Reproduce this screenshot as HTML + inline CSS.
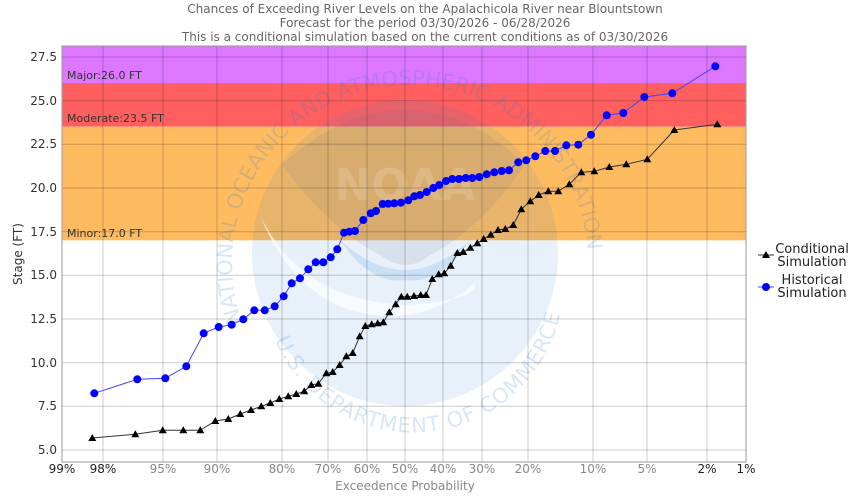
<!DOCTYPE html>
<html><head><meta charset="utf-8"><style>
body{margin:0;background:#fff}
svg{display:block;font-family:"DejaVu Sans","Liberation Sans",sans-serif}
</style></head><body>
<svg width="850" height="500" viewBox="0 0 850 500" xmlns="http://www.w3.org/2000/svg">
<rect width="850" height="500" fill="#fff"/>
<g font-size="12" fill="#666" text-anchor="middle">
<text x="425" y="13">Chances of Exceeding River Levels on the Apalachicola River near Blountstown</text>
<text x="425" y="27">Forecast for the period 03/30/2026 - 06/28/2026</text>
<text x="425" y="41">This is a conditional simulation based on the current conditions as of 03/30/2026</text>
</g>
<rect x="62" y="46" width="684" height="37" fill="#dd77ff"/>
<rect x="62" y="83" width="684" height="43.7" fill="#ff5f5f"/>
<rect x="62" y="126.7" width="684" height="113.6" fill="#ffbb5f"/>
<defs>
<path id="arcTop" d="M242,322 A178,178 0 1 1 578,322"/>
<path id="arcBot" d="M275,340 A150,150 0 0 0 560,315"/>
</defs>
<g>
<circle cx="405" cy="253" r="153" fill="#2a7fd6" opacity="0.11"/>
<path d="M282,165 Q340,110 405,110 Q470,110 525,165 Q480,230 430,255 Q405,275 380,255 Q330,230 282,165 Z" fill="#6a6a8a" opacity="0.12"/>
<path d="M340,240 Q405,300 470,240 Q440,285 405,280 Q370,285 340,240 Z" fill="#2a7fd6" opacity="0.15"/>
<path d="M260,215 Q300,300 405,305 Q480,300 475,283 Q420,330 350,310 Q290,290 260,215 Z" fill="#fff" opacity="0.7"/>
<text font-size="21" fill="#2a7fd6" opacity="0.18"><textPath href="#arcTop">NATIONAL OCEANIC AND ATMOSPHERIC ADMINISTRATION</textPath></text>
<text font-size="21" fill="#2a7fd6" opacity="0.18" letter-spacing="1"><textPath href="#arcBot">U.S. DEPARTMENT OF COMMERCE</textPath></text>
<text x="405" y="200" font-size="44" font-weight="bold" fill="#fff" opacity="0.15" text-anchor="middle">NOAA</text>
</g>
<g stroke="#000" stroke-opacity="0.2" stroke-width="1">
<line x1="62" x2="746" y1="57" y2="57"/><line x1="62" x2="746" y1="100.7" y2="100.7"/>
<line x1="62" x2="746" y1="144.3" y2="144.3"/><line x1="62" x2="746" y1="188" y2="188"/>
<line x1="62" x2="746" y1="231.7" y2="231.7"/><line x1="62" x2="746" y1="275.3" y2="275.3"/>
<line x1="62" x2="746" y1="319" y2="319"/><line x1="62" x2="746" y1="362.7" y2="362.7"/>
<line x1="62" x2="746" y1="406.3" y2="406.3"/><line x1="62" x2="746" y1="450" y2="450"/>
<line y1="46" y2="462" x1="103" x2="103"/><line y1="46" y2="462" x1="163" x2="163"/>
<line y1="46" y2="462" x1="217" x2="217"/><line y1="46" y2="462" x1="282" x2="282"/>
<line y1="46" y2="462" x1="328" x2="328"/><line y1="46" y2="462" x1="367" x2="367"/>
<line y1="46" y2="462" x1="405" x2="405"/><line y1="46" y2="462" x1="443" x2="443"/>
<line y1="46" y2="462" x1="482" x2="482"/><line y1="46" y2="462" x1="528" x2="528"/>
<line y1="46" y2="462" x1="593" x2="593"/><line y1="46" y2="462" x1="647" x2="647"/>
<line y1="46" y2="462" x1="707" x2="707"/>
</g>
<rect x="62" y="46" width="684" height="416" fill="none" stroke="#999"/>
<g font-size="11" fill="#333">
<text x="67" y="79">Major:26.0 FT</text>
<text x="67" y="122">Moderate:23.5 FT</text>
<text x="67" y="237">Minor:17.0 FT</text>
</g>
<g font-size="12" fill="#333" text-anchor="end">
<text x="57" y="61">27.5</text><text x="57" y="105">25.0</text><text x="57" y="148">22.5</text>
<text x="57" y="192">20.0</text><text x="57" y="236">17.5</text><text x="57" y="279">15.0</text>
<text x="57" y="323">12.5</text><text x="57" y="367">10.0</text><text x="57" y="410">7.5</text>
<text x="57" y="454">5.0</text>
</g>
<text transform="translate(22,254) rotate(-90)" font-size="12" fill="#333" text-anchor="middle">Stage (FT)</text>
<g font-size="12" fill="#888" text-anchor="middle">
<text x="62" y="473" fill="#222">99%</text><text x="103" y="473" fill="#222">98%</text>
<text x="163" y="473">95%</text><text x="217" y="473">90%</text><text x="282" y="473">80%</text>
<text x="328" y="473">70%</text><text x="367" y="473">60%</text><text x="405" y="473">50%</text>
<text x="443" y="473">40%</text><text x="482" y="473">30%</text><text x="528" y="473">20%</text>
<text x="593" y="473">10%</text><text x="647" y="473">5%</text>
<text x="707" y="473" fill="#222">2%</text><text x="746" y="473" fill="#222">1%</text>
<text x="405" y="490">Exceedence Probability</text>
</g>
<polyline fill="none" stroke="#4444ff" stroke-width="1" points="94.3,393.3 137.3,379.3 165.3,378.3 186.3,366.3 203.7,333.3 218.7,327 231.7,324.7 243.3,319.3 254.3,310.3 264.7,310.3 274.7,306.3 283.7,296.3 291.7,283.3 300,278.3 308.3,269.3 315.7,262.3 323.3,262.3 330.7,257.3 337.3,249.3 344,232.7 349.3,231.7 355,231 363.3,220 370.7,213.3 376,211 382.7,204 388.3,203.7 394.3,203.3 401,202.7 408.3,200.3 414.3,196.3 420,195 426.7,192 433.3,188 439.3,185 446,181 452.3,179 459,179 465.7,178 472.3,178 479.3,177 486.7,174.3 494.3,172.3 501.7,171 509,170.3 518.3,162.3 526.3,160.3 535.3,156.3 545.3,151 555,151 566.3,145.3 578.3,144.7 591,134.7 606.7,115.3 623.3,113 644.3,97 672.3,93.3 715.3,66.3"/>
<g fill="#0000ff">
<circle cx="94.3" cy="393.3" r="4"/><circle cx="137.3" cy="379.3" r="4"/><circle cx="165.3" cy="378.3" r="4"/><circle cx="186.3" cy="366.3" r="4"/><circle cx="203.7" cy="333.3" r="4"/><circle cx="218.7" cy="327" r="4"/><circle cx="231.7" cy="324.7" r="4"/><circle cx="243.3" cy="319.3" r="4"/><circle cx="254.3" cy="310.3" r="4"/><circle cx="264.7" cy="310.3" r="4"/><circle cx="274.7" cy="306.3" r="4"/><circle cx="283.7" cy="296.3" r="4"/><circle cx="291.7" cy="283.3" r="4"/><circle cx="300" cy="278.3" r="4"/><circle cx="308.3" cy="269.3" r="4"/><circle cx="315.7" cy="262.3" r="4"/><circle cx="323.3" cy="262.3" r="4"/><circle cx="330.7" cy="257.3" r="4"/><circle cx="337.3" cy="249.3" r="4"/><circle cx="344" cy="232.7" r="4"/><circle cx="349.3" cy="231.7" r="4"/><circle cx="355" cy="231" r="4"/><circle cx="363.3" cy="220" r="4"/><circle cx="370.7" cy="213.3" r="4"/><circle cx="376" cy="211" r="4"/><circle cx="382.7" cy="204" r="4"/><circle cx="388.3" cy="203.7" r="4"/><circle cx="394.3" cy="203.3" r="4"/><circle cx="401" cy="202.7" r="4"/><circle cx="408.3" cy="200.3" r="4"/><circle cx="414.3" cy="196.3" r="4"/><circle cx="420" cy="195" r="4"/><circle cx="426.7" cy="192" r="4"/><circle cx="433.3" cy="188" r="4"/><circle cx="439.3" cy="185" r="4"/><circle cx="446" cy="181" r="4"/><circle cx="452.3" cy="179" r="4"/><circle cx="459" cy="179" r="4"/><circle cx="465.7" cy="178" r="4"/><circle cx="472.3" cy="178" r="4"/><circle cx="479.3" cy="177" r="4"/><circle cx="486.7" cy="174.3" r="4"/><circle cx="494.3" cy="172.3" r="4"/><circle cx="501.7" cy="171" r="4"/><circle cx="509" cy="170.3" r="4"/><circle cx="518.3" cy="162.3" r="4"/><circle cx="526.3" cy="160.3" r="4"/><circle cx="535.3" cy="156.3" r="4"/><circle cx="545.3" cy="151" r="4"/><circle cx="555" cy="151" r="4"/><circle cx="566.3" cy="145.3" r="4"/><circle cx="578.3" cy="144.7" r="4"/><circle cx="591" cy="134.7" r="4"/><circle cx="606.7" cy="115.3" r="4"/><circle cx="623.3" cy="113" r="4"/><circle cx="644.3" cy="97" r="4"/><circle cx="672.3" cy="93.3" r="4"/><circle cx="715.3" cy="66.3" r="4"/>
</g>
<polyline fill="none" stroke="#333" stroke-width="1" points="92.3,438 135.3,434.3 162.7,430.3 183.3,430.3 200.3,430.3 215.3,421 228.3,419 240.3,414 251,410 261.3,406.3 270.3,403 279.3,399 288.3,396.3 296.3,394 304.3,391.3 311.3,385 318.3,383.7 326.3,373.3 332.7,372 339.7,365 346.3,356.3 352.7,353 359.7,336.3 365.3,326 371.7,324.3 377.7,323.3 383.3,322.3 389.3,312.3 395.7,304.3 401.3,296.7 407.3,296.7 414,296 420.7,295 426,295 432.3,279 438.7,274.3 444.3,273.3 450.7,265.7 457.3,253 463.3,252 470.3,247.7 477.3,243.3 483.7,239 490.7,234.7 498,230 505.3,229 513.3,225 521.3,209.3 530.3,201.3 538.7,195 548.3,191.3 558.3,191.3 569.3,184.3 581.3,172.3 594.3,171.3 609.3,167 626.3,164.3 647.3,159.3 674.3,130 717.3,124.3"/>
<g fill="#000">
<path d="M92.3,434l4,7h-8z M135.3,430.3l4,7h-8z M162.7,426.3l4,7h-8z M183.3,426.3l4,7h-8z M200.3,426.3l4,7h-8z M215.3,417l4,7h-8z M228.3,415l4,7h-8z M240.3,410l4,7h-8z M251,406l4,7h-8z M261.3,402.3l4,7h-8z M270.3,399l4,7h-8z M279.3,395l4,7h-8z M288.3,392.3l4,7h-8z M296.3,390l4,7h-8z M304.3,387.3l4,7h-8z M311.3,381l4,7h-8z M318.3,379.7l4,7h-8z M326.3,369.3l4,7h-8z M332.7,368l4,7h-8z M339.7,361l4,7h-8z M346.3,352.3l4,7h-8z M352.7,349l4,7h-8z M359.7,332.3l4,7h-8z M365.3,322l4,7h-8z M371.7,320.3l4,7h-8z M377.7,319.3l4,7h-8z M383.3,318.3l4,7h-8z M389.3,308.3l4,7h-8z M395.7,300.3l4,7h-8z M401.3,292.7l4,7h-8z M407.3,292.7l4,7h-8z M414,292l4,7h-8z M420.7,291l4,7h-8z M426,291l4,7h-8z M432.3,275l4,7h-8z M438.7,270.3l4,7h-8z M444.3,269.3l4,7h-8z M450.7,261.7l4,7h-8z M457.3,249l4,7h-8z M463.3,248l4,7h-8z M470.3,243.7l4,7h-8z M477.3,239.3l4,7h-8z M483.7,235l4,7h-8z M490.7,230.7l4,7h-8z M498,226l4,7h-8z M505.3,225l4,7h-8z M513.3,221l4,7h-8z M521.3,205.3l4,7h-8z M530.3,197.3l4,7h-8z M538.7,191l4,7h-8z M548.3,187.3l4,7h-8z M558.3,187.3l4,7h-8z M569.3,180.3l4,7h-8z M581.3,168.3l4,7h-8z M594.3,167.3l4,7h-8z M609.3,163l4,7h-8z M626.3,160.3l4,7h-8z M647.3,155.3l4,7h-8z M674.3,126l4,7h-8z M717.3,120.3l4,7h-8z"/>
</g>
<line x1="758" x2="774" y1="255" y2="255" stroke="#333"/>
<path d="M766,251l4,7h-8z" fill="#000"/>
<line x1="758" x2="774" y1="287" y2="287" stroke="#4444ff"/>
<circle cx="766" cy="287" r="4" fill="#0000ff"/>
<g font-size="13" fill="#222" text-anchor="middle">
<text x="812" y="253">Conditional</text><text x="812" y="266">Simulation</text>
<text x="812" y="284">Historical</text><text x="812" y="297">Simulation</text>
</g>
</svg>
</body></html>
